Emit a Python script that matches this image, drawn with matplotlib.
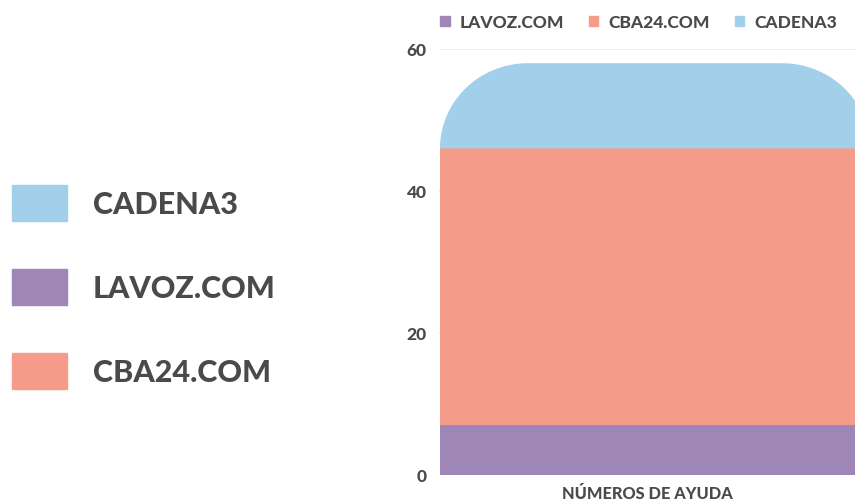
import numpy as np
import matplotlib
matplotlib.use("Agg")
import matplotlib.pyplot as plt
from matplotlib.path import Path
from matplotlib.patches import PathPatch, Rectangle

# ---- data ----
categories = ["NÚMEROS DE AYUDA"]
series_names = ["LAVOZ.COM", "CBA24.COM", "CADENA3"]
series_values = {
    "LAVOZ.COM": [7],
    "CBA24.COM": [39],
    "CADENA3": [12],
}
colors = {
    "LAVOZ.COM": "#9e86b6",
    "CBA24.COM": "#f49c89",
    "CADENA3": "#a2d0ea",
}
yticks = [0, 20, 40, 60]
side_legend_order = ["CADENA3", "LAVOZ.COM", "CBA24.COM"]

FONT = ["Lato", "DejaVu Sans"]
WEIGHT = 900
TXT = "#4a4a4a"
plt.rcParams['font.family'] = FONT

W, H = 855, 502
fig = plt.figure(figsize=(W / 100, H / 100), dpi=100)
ax = fig.add_axes([439 / W, (H - 476) / H, (855 - 439) / W, 426 / H])

x = np.arange(len(categories))
bottom = np.zeros(len(categories))
containers = {}
for name in series_names:
    vals = np.array(series_values[name], dtype=float)
    c = ax.bar(x, vals, width=1.0, bottom=bottom, color=colors[name],
               label=name, zorder=2, linewidth=0)
    containers[name] = c
    bottom += vals

# bar spans px 440..870 -> 430 px per unit
ppx = 430.0
x_left = -0.5 - 1 / ppx
ax.set_xlim(x_left, x_left + (855 - 439) / ppx)
ax.set_ylim(0, 60)

# rounded top corners on the top segment
fig.canvas.draw()
top_name = series_names[-1]
r_px = 88
for rect in containers[top_name].patches:
    x0, y0 = rect.get_x(), rect.get_y()
    w, h = rect.get_width(), rect.get_height()
    x1, y1 = x0 + w, y0 + h
    p00 = ax.transData.transform((0, 0))
    p11 = ax.transData.transform((1, 1))
    sx, sy = p11[0] - p00[0], p11[1] - p00[1]
    rx = r_px / sx
    ry = min(r_px / sy, h)
    t1 = np.linspace(np.pi, np.pi / 2, 40)
    t2 = np.linspace(np.pi / 2, 0, 40)
    pts = [(x0, y0), (x0, y1 - ry)]
    pts += list(zip(x0 + rx + rx * np.cos(t1), y1 - ry + ry * np.sin(t1)))
    pts += list(zip(x1 - rx + rx * np.cos(t2), y1 - ry + ry * np.sin(t2)))
    pts += [(x1, y0), (x0, y0)]
    codes = [Path.MOVETO] + [Path.LINETO] * (len(pts) - 2) + [Path.CLOSEPOLY]
    patch = PathPatch(Path(pts, codes), facecolor=rect.get_facecolor(),
                      edgecolor="none", zorder=2)
    rect.set_visible(False)
    ax.add_patch(patch)

for s in ax.spines.values():
    s.set_visible(False)
ax.set_yticks(yticks)
ax.set_yticklabels([str(v) for v in yticks], fontsize=12.5, fontweight=WEIGHT,
                   color=TXT)
ax.tick_params(axis="y", length=0, pad=9)
ax.set_xticks([])
ax.grid(axis="y", color="#e8e8e8", linewidth=1.2, zorder=0)
ax.set_axisbelow(True)
ax.set_xlabel(categories[0], fontsize=11.8, fontweight=WEIGHT, color=TXT,
              labelpad=7.5)

# top legend
h_top = [Rectangle((0, 0), 1, 1, color=colors[n]) for n in series_names]
leg = fig.legend(h_top, series_names, loc="center left",
                 bbox_to_anchor=(440 / W, (H - 23) / H), ncol=3, frameon=False,
                 handlelength=0.55, handleheight=0.55, handletextpad=0.6,
                 columnspacing=1.4, borderpad=0, borderaxespad=0,
                 prop={"family": FONT, "weight": WEIGHT, "size": 12.5})
for t in leg.get_texts():
    t.set_color(TXT)

# side legend
h_side = [Rectangle((0, 0), 1, 1, color=colors[n]) for n in side_legend_order]
leg2 = fig.legend(h_side, side_legend_order, loc="center left",
                  bbox_to_anchor=(12 / W, (H - 288) / H), frameon=False,
                  handlelength=1.8, handleheight=1.45, handletextpad=0.85,
                  labelspacing=1.55, borderpad=0, borderaxespad=0,
                  prop={"family": FONT, "weight": WEIGHT, "size": 22})
for t in leg2.get_texts():
    t.set_color(TXT)

fig.savefig("out.png", dpi=100)
